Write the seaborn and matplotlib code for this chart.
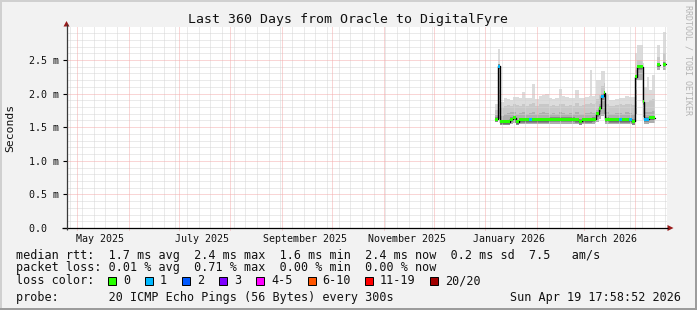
import numpy as np
import pandas as pd
import matplotlib
matplotlib.use("Agg")
import matplotlib.pyplot as plt
import matplotlib.dates as mdates
from matplotlib.patches import Rectangle, Polygon
import seaborn as sns

# ------------------------------------------------------------------ data
sample_times = [
    "2026-01-07 00:00", "2026-01-08 12:00", "2026-01-10 00:00", "2026-01-12 00:00",
    "2026-01-14 00:00", "2026-01-16 00:00", "2026-01-17 12:00", "2026-01-19 12:00",
    "2026-01-21 00:00", "2026-01-23 00:00", "2026-01-25 00:00", "2026-01-27 00:00",
    "2026-01-29 00:00", "2026-01-31 00:00", "2026-02-02 00:00", "2026-02-04 00:00",
    "2026-02-06 00:00", "2026-02-08 00:00", "2026-02-10 00:00", "2026-02-12 00:00",
    "2026-02-14 00:00", "2026-02-16 00:00", "2026-02-18 00:00", "2026-02-20 00:00",
    "2026-02-22 00:00", "2026-02-24 00:00", "2026-02-26 00:00", "2026-02-28 00:00",
    "2026-03-02 00:00", "2026-03-04 00:00", "2026-03-05 00:00", "2026-03-06 00:00",
    "2026-03-08 00:00", "2026-03-08 14:00", "2026-03-10 00:00", "2026-03-11 12:00",
    "2026-03-13 00:00", "2026-03-14 00:00", "2026-03-16 00:00", "2026-03-18 00:00",
    "2026-03-20 00:00", "2026-03-22 00:00", "2026-03-24 00:00", "2026-03-26 00:00",
    "2026-03-28 00:00", "2026-03-30 00:00", "2026-04-01 00:00", "2026-04-02 06:00",
    "2026-04-05 12:00", "2026-04-06 12:00", "2026-04-08 00:00", "2026-04-09 00:00",
    "2026-04-11 00:00", "2026-04-13 00:00", "2026-04-14 06:00", "2026-04-16 00:00",
    "2026-04-17 12:00", "2026-04-19 17:58",
]
nan = float("nan")
median_ms = [
    1.62, 2.41, 1.58, 1.58, 1.58, 1.62, 1.64, 1.58,
    1.61, 1.61, 1.61, 1.61, 1.61, 1.61, 1.61, 1.61,
    1.61, 1.62, 1.62, 1.62, 1.62, 1.62, 1.62, 1.62,
    1.62, 1.61, 1.59, 1.61, 1.61, 1.61, 1.61, 1.62,
    1.62, 1.70, 1.78, 1.96, 2.01, 1.62, 1.61, 1.61,
    1.61, 1.61, 1.61, 1.61, 1.61, 1.59, 2.25, 2.40,
    1.88, 1.62, 1.62, 1.64, 1.64, nan, 2.43, nan,
    2.44, nan,
]
loss_count = [
    0, 1, 0, 0, 0, 0, 0, 0,
    0, 0, 0, 1, 0, 0, 0, 0,
    0, 0, 0, 0, 0, 0, 0, 0,
    0, 0, 0, 0, 0, 0, 0, 0,
    0, 0, 0, 1, 0, 0, 0, 0,
    0, 1, 0, 0, 1, 0, 0, 0,
    0, 1, 1, 0, 0, 0, 0, 0,
    0, 0,
]
smoke_min = [
    1.57, 1.62, 1.54, 1.54, 1.54, 1.55, 1.56, 1.54,
    1.55, 1.55, 1.55, 1.55, 1.55, 1.55, 1.55, 1.55,
    1.55, 1.55, 1.55, 1.55, 1.55, 1.55, 1.55, 1.55,
    1.55, 1.55, 1.54, 1.55, 1.55, 1.55, 1.55, 1.55,
    1.56, 1.58, 1.62, 1.66, 1.70, 1.55, 1.55, 1.55,
    1.55, 1.55, 1.55, 1.55, 1.55, 1.54, 1.70, 2.20,
    1.65, 1.55, 1.55, 1.56, 1.56, nan, 2.35, nan,
    2.35, nan,
]
smoke_inner = [
    1.68, 2.05, 1.66, 1.70, 1.71, 1.72, 1.72, 1.70,
    1.71, 1.72, 1.70, 1.71, 1.72, 1.70, 1.71, 1.72,
    1.71, 1.70, 1.71, 1.70, 1.72, 1.71, 1.70, 1.71,
    1.70, 1.72, 1.69, 1.70, 1.71, 1.71, 1.72, 1.71,
    1.72, 1.76, 1.84, 1.98, 2.02, 1.72, 1.70, 1.70,
    1.71, 1.71, 1.70, 1.72, 1.71, 1.70, 2.05, 2.35,
    1.95, 1.72, 1.72, 1.73, 1.74, nan, 2.45, nan,
    2.46, nan,
]
smoke_outer = [
    1.76, 2.38, 1.78, 1.82, 1.83, 1.82, 1.84, 1.83,
    1.82, 1.85, 1.82, 1.84, 1.86, 1.82, 1.84, 1.85,
    1.84, 1.82, 1.83, 1.82, 1.85, 1.84, 1.82, 1.83,
    1.82, 1.86, 1.81, 1.83, 1.84, 1.84, 1.86, 1.84,
    1.86, 1.92, 1.98, 2.12, 2.16, 1.85, 1.82, 1.82,
    1.83, 1.84, 1.83, 1.85, 1.84, 1.83, 2.35, 2.50,
    2.15, 1.88, 1.88, 1.90, 1.92, nan, 2.55, nan,
    2.60, nan,
]
smoke_max = [
    1.85, 2.66, 1.88, 1.93, 1.92, 1.90, 1.95, 1.95,
    1.93, 2.03, 1.93, 1.94, 2.15, 1.92, 1.96, 1.98,
    2.00, 1.93, 1.92, 1.94, 2.07, 1.96, 1.95, 1.94,
    1.93, 2.05, 1.93, 1.94, 1.95, 1.97, 2.35, 1.96,
    2.00, 2.20, 2.20, 2.33, 2.33, 1.98, 1.90, 1.90,
    1.92, 1.93, 1.93, 1.97, 1.95, 1.95, 2.60, 2.72,
    2.45, 2.10, 2.25, 2.05, 2.27, nan, 2.72, nan,
    2.92, nan,
]

end_time = pd.Timestamp("2026-04-19 17:58:52")
ytick_values = [0.0, 0.5, 1.0, 1.5, 2.0, 2.5]
ytick_labels = ["0.0  ", "0.5 m", "1.0 m", "1.5 m", "2.0 m", "2.5 m"]
xtick_dates = ["2025-05-15", "2025-07-15", "2025-09-15", "2025-11-15",
               "2026-01-15", "2026-03-15"]
xtick_labels = ["May 2025", "July 2025", "September 2025", "November 2025",
                "January 2026", "March 2026"]
loss_names = ["0", "1", "2", "3", "4-5", "6-10", "11-19", "20/20"]
loss_colors = ["#26ff00", "#00b8ff", "#0059ff", "#7e00ff",
               "#ff00ff", "#ff5500", "#ff0000", "#a10000"]

title_text = "Last 360 Days from Oracle to DigitalFyre"
ylabel_text = "Seconds"
watermark_text = "RRDTOOL / TOBI OETIKER"
legend_rtt = "median rtt:  1.7 ms avg  2.4 ms max  1.6 ms min  2.4 ms now  0.2 ms sd  7.5   am/s"
legend_loss = "packet loss: 0.01 % avg  0.71 % max  0.00 % min  0.00 % now"
legend_color = "loss color:"
legend_probe = "probe:       20 ICMP Echo Pings (56 Bytes) every 300s"
legend_date = "Sun Apr 19 17:58:52 2026"

# ------------------------------------------------------------------ style
sns.set_theme(style="white")
plt.rcParams["font.family"] = ["DejaVu Sans Mono", "DejaVu Sans"]
plt.rcParams["lines.scale_dashes"] = False

W, H = 697, 310
L, R, T, B = 66.5, 666.5, 27.0, 228.0
PX_PER_M = 67.2
TXT = "#111111"
PX = 0.72  # one pixel in points

fig = plt.figure(figsize=(W / 100, H / 100), dpi=100)
fig.patch.set_facecolor("#f2f2f2")
ax = fig.add_axes([L / W, 1 - B / H, (R - L) / W, (B - T) / H])
ax.set_facecolor("white")
start_time = end_time - pd.Timedelta(days=360)
ytop = (B - T) / PX_PER_M
ax.set_xlim(start_time, end_time)
ax.set_ylim(0, ytop)
for s in ax.spines.values():
    s.set_visible(False)

# ------------------------------------------------------------------ data frame
df = pd.DataFrame({
    "time": pd.to_datetime(sample_times),
    "median": median_ms, "loss": loss_count,
    "lo": smoke_min, "q1": smoke_inner, "q2": smoke_outer, "hi": smoke_max,
})
tnum = mdates.date2num(df["time"])
df["x"] = tnum
df["w"] = np.append(np.diff(tnum), np.nan)
seg = df.iloc[:-1].dropna(subset=["median"])

# smoke
ax.bar(seg["x"], seg["hi"] - seg["lo"], bottom=seg["lo"], width=seg["w"],
       align="edge", color="#dcdcdc", linewidth=0, zorder=1)
ax.bar(seg["x"], seg["q2"] - seg["lo"], bottom=seg["lo"], width=seg["w"],
       align="edge", color="#c8c8c8", linewidth=0, zorder=1.1)
ax.bar(seg["x"], seg["q1"] - seg["lo"], bottom=seg["lo"], width=seg["w"],
       align="edge", color="#afafaf", linewidth=0, zorder=1.2)
ax.bar(seg["x"], 0.08, bottom=seg["median"] - 0.05, width=seg["w"],
       align="edge", color="#8a8a8a", linewidth=0, zorder=1.3)

# grid (drawn over the smoke, as rrdtool does)
dot = (0, (PX, PX))
gkw = dict(lw=PX, ls=dot, antialiased=True)
months = pd.date_range(start_time.normalize(), end_time, freq="MS")
for d in pd.date_range(start_time.normalize(), end_time, freq="W-SUN"):
    if d not in months:
        ax.axvline(d, color="#d6d6d6", zorder=2, **gkw)
for yv in np.arange(1, int(ytop * 10) + 1) / 10:
    if round(yv * 10) % 5:
        ax.axhline(yv, color="#d6d6d6", zorder=2, **gkw)
for d in months:
    ax.axvline(d, ymin=-0.012, color="#f5acac", zorder=2.1, clip_on=False, **gkw)
for yv in ytick_values[1:]:
    ax.axhline(yv, color="#f5acac", zorder=2.1, **gkw)

# median step line (seaborn), split into contiguous blocks
rows = []
block = 0
prev_valid = False
for i in range(len(df) - 1):
    v = df["median"].iloc[i]
    if np.isnan(v):
        prev_valid = False
        continue
    if not prev_valid:
        block += 1
    rows.append((block, df["time"].iloc[i], v))
    rows.append((block, df["time"].iloc[i + 1], v))
    prev_valid = True
steps = pd.DataFrame(rows, columns=["block", "time", "median"])
sns.lineplot(data=steps, x="time", y="median", units="block", estimator=None,
             sort=False, color="black", lw=1.0, ax=ax, zorder=3, legend=False)

# loss-coloured median marks
DELTA = 0.022
for k, c in enumerate(loss_colors):
    sub = seg[seg["loss"] == k]
    if len(sub):
        ax.bar(sub["x"], 2 * DELTA, bottom=sub["median"] - DELTA, width=sub["w"],
               align="edge", color=c, linewidth=0, zorder=4)

ax.set_xlim(start_time, end_time)
ax.set_ylim(0, ytop)
ax.set_xlabel("")
ax.set_ylabel("")

# ticks
ax.set_xticks(pd.to_datetime(xtick_dates))
ax.set_xticklabels(xtick_labels, fontsize=7.2, color=TXT)
ax.tick_params(axis="x", length=0, pad=4.2)
ax.set_yticks(ytick_values)
ax.set_yticklabels(ytick_labels, fontsize=7.2, color=TXT)
ax.tick_params(axis="y", length=2.6, width=0.8, color="black", pad=24.2, left=True)
for lab in ax.get_yticklabels():
    lab.set_horizontalalignment("left")

# ------------------------------------------------------------------ overlay (pixel coords)
ov = fig.add_axes([0, 0, 1, 1])
ov.set_xlim(0, W)
ov.set_ylim(H, 0)
ov.axis("off")
ov.patch.set_alpha(0)

# 3D border
ov.add_patch(Rectangle((0, 0), W, 2, color="#d0d0d0", lw=0))
ov.add_patch(Rectangle((0, 0), 2, H, color="#d0d0d0", lw=0))
ov.add_patch(Rectangle((0, H - 2), W, 2, color="#9c9c9c", lw=0))
ov.add_patch(Rectangle((W - 2, 0), 2, H, color="#9c9c9c", lw=0))

# axes with arrows
ov.plot([62, 668], [B, B], color="black", lw=0.9, solid_capstyle="butt")
ov.plot([L, L], [B + 2, 24], color="#3a3a3a", lw=0.9, solid_capstyle="butt")
ov.add_patch(Polygon([(L - 3, 26.5), (L + 3, 26.5), (L, 21)], closed=True,
                     color="#991b1b", lw=0))
ov.add_patch(Polygon([(667.5, B - 3), (667.5, B + 3), (673.5, B)], closed=True,
                     color="#991b1b", lw=0))

# texts
ov.text(347.5, 19, title_text, ha="center", va="center", fontsize=9.5, color=TXT)
ov.text(10, 128, ylabel_text, ha="center", va="center", rotation=90,
        fontsize=8.2, color=TXT)
ov.text(688, 5, watermark_text, ha="center", va="top", rotation=270,
        fontsize=6, color="#b4b4b4")

LX = 16.4
ov.text(LX, 255, legend_rtt, ha="left", va="center", fontsize=8.5, color=TXT)
ov.text(LX, 268, legend_loss, ha="left", va="center", fontsize=8.5, color=TXT)
ov.text(LX, 281, legend_color, ha="left", va="center", fontsize=8.5, color=TXT)
swatch_x = [108, 145, 182, 219, 256.4, 307.6, 365, 430]
for sx, name, col in zip(swatch_x, loss_names, loss_colors):
    ov.add_patch(Rectangle((sx, 277), 8, 8, facecolor=col, edgecolor="black", lw=0.7))
    ov.text(sx + 15, 281, name, ha="left", va="center", fontsize=8.5, color=TXT)
ov.text(LX, 297, legend_probe, ha="left", va="center", fontsize=8.5, color=TXT)
ov.text(680.5, 297, legend_date, ha="right", va="center", fontsize=8.5, color=TXT)

fig.savefig("out.png", dpi=100, facecolor=fig.get_facecolor())
